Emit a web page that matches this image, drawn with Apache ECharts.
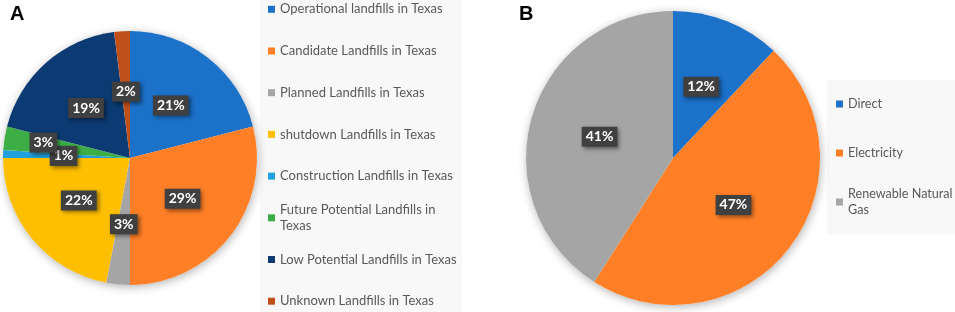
<!DOCTYPE html>
<html><head><meta charset="utf-8">
<script src="https://cdn.jsdelivr.net/npm/echarts@6/dist/echarts.min.js"></script>
<style>html,body{margin:0;padding:0;background:#fff}#c{width:955px;height:312px}</style>
</head><body><div id="c"></div>
<script>
// ---- data ----
const landfillCategories = ['Operational landfills in Texas', 'Candidate Landfills in Texas', 'Planned Landfills in Texas', 'shutdown Landfills in Texas', 'Construction Landfills in Texas', 'Future Potential Landfills in Texas', 'Low Potential Landfills in Texas', 'Unknown Landfills in Texas'];
const landfillShares = [21, 29, 3, 22, 1, 3, 19, 2];
const useCategories = ['Direct', 'Electricity', 'Renewable Natural Gas'];
const useShares = [12, 47, 41];
const panelTitles = ['A', 'B'];

// ---- style ----
const landfillColors = ['#1c71c9', '#fe7f26', '#a5a5a5', '#fdbf00', '#21a0de', '#3dae45', '#0b3b72', '#c0501a'];
const useColors = ['#1c71c9', '#fe7f26', '#a5a5a5'];
const FONT = 'Lato';
const LEG_LH = 16;

function makeLegends(names, left, firstCenter, step, maxW, fs) {
  const ctx = document.createElement('canvas').getContext('2d');
  ctx.font = fs + 'px ' + FONT;
  return names.map((n, i) => {
    const nl = ctx.measureText(n).width > maxW ? 2 : 1;
    const P = (nl - 1) * LEG_LH;
    const block = (2 * nl - 1) * LEG_LH;
    const c = firstCenter + i * step;
    return {
      data: [n], orient: 'vertical', left: left, top: c - block / 2, padding: 0,
      icon: 'rect', itemWidth: 7, itemHeight: 7, selectedMode: false,
      textStyle: { fontFamily: FONT, fontSize: fs, color: '#595959', lineHeight: LEG_LH, width: maxW, overflow: 'break', padding: [P, 0, 0, 0] }
    };
  });
}

const labelStyle = {
  show: true, position: 'inside', formatter: '{c}%', color: '#fff', fontFamily: FONT, fontWeight: 'bold', fontSize: 14,
  backgroundColor: '#404040', padding: [3, 4, 3, 4], shadowColor: 'rgba(0,0,0,0.45)', shadowBlur: 4, shadowOffsetX: 2, shadowOffsetY: 2
};

function backdrop(values, center, radius) {
  return { type: 'pie', silent: true, center: center, radius: radius, z: 1, label: { show: false }, labelLine: { show: false },
    data: [{ value: values.reduce((a, b) => a + b, 0), name: '' }],
    itemStyle: { color: '#fff', shadowBlur: 10, shadowColor: 'rgba(0,0,0,0.3)', shadowOffsetX: 1, shadowOffsetY: 2 } };
}

const chart = echarts.init(document.getElementById('c'));
chart.setOption({
  animation: false,
  title: [
    { text: panelTitles[0], left: 10, top: 4, padding: 0, textStyle: { fontFamily: 'Liberation Sans', fontSize: 20, fontWeight: 'bold', color: '#000' } },
    { text: panelTitles[1], left: 519, top: 4, padding: 0, textStyle: { fontFamily: 'Liberation Sans', fontSize: 20, fontWeight: 'bold', color: '#000' } }
  ],
  graphic: [
    { type: 'rect', left: 260, top: 0, shape: { width: 202, height: 312 }, style: { fill: '#f8f8f8' }, z: -10, silent: true },
    { type: 'rect', left: 827, top: 80, shape: { width: 128, height: 155 }, style: { fill: '#f8f8f8' }, z: -10, silent: true }
  ],
  legend: [].concat(
    makeLegends(landfillCategories, 268, 9.3, 41.7, 184, 13),
    makeLegends(useCategories, 836, 104, 49, 112, 12.6)
  ),
  series: [
    backdrop(landfillShares, [130, 158], 127),
    {
      type: 'pie', center: [130, 158], radius: 127, z: 2, startAngle: 90, clockwise: true,
      emphasis: { disabled: true },
      data: landfillCategories.map((n, i) => ({ name: n, value: landfillShares[i], itemStyle: { color: landfillColors[i] } })),
      label: labelStyle, labelLine: { show: false },
      labelLayout: p => (p.dataIndex === 5 ? { dx: -21, dy: -5 } : {})
    },
    backdrop(useShares, [673, 158], 147),
    {
      type: 'pie', center: [673, 158], radius: 147, z: 2, startAngle: 90, clockwise: true,
      emphasis: { disabled: true },
      data: useCategories.map((n, i) => ({ name: n, value: useShares[i], itemStyle: { color: useColors[i] } })),
      label: labelStyle, labelLine: { show: false }
    }
  ]
});
</script></body></html>
